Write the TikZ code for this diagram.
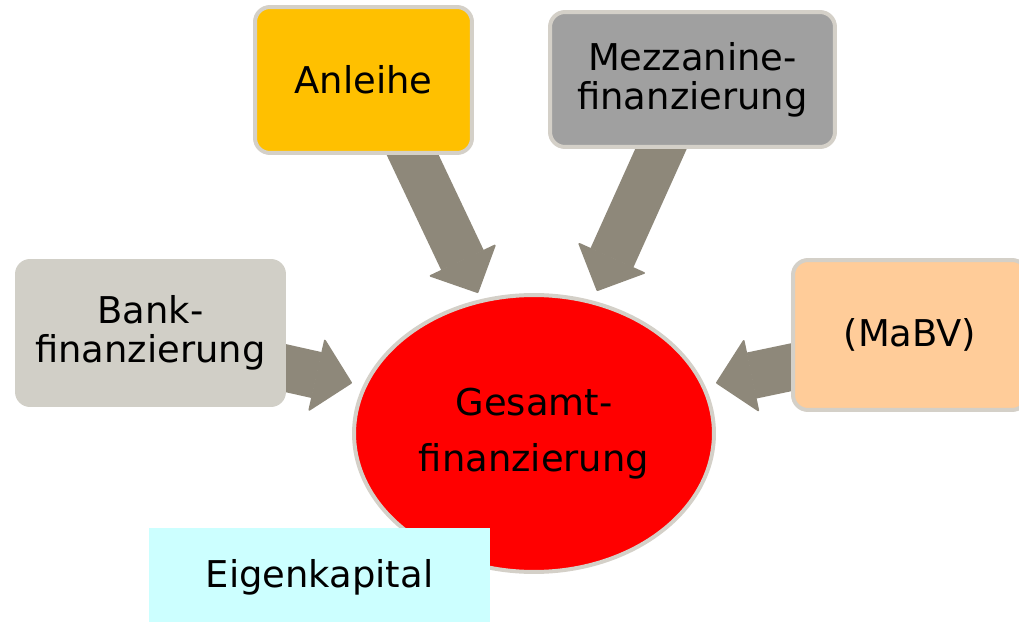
\documentclass[tikz,border=0pt]{standalone}
\usepackage{fontspec}
\setmainfont{DejaVu Sans}
\usetikzlibrary{arrows.meta,calc,shapes.geometric}
\definecolor{canleihe}{RGB}{255,192,0}
\definecolor{cmezz}{RGB}{160,160,160}
\definecolor{cbank}{RGB}{209,207,199}
\definecolor{cmabv}{RGB}{255,204,153}
\definecolor{ceigen}{RGB}{204,255,255}
\definecolor{crim}{RGB}{212,208,200}
\definecolor{cflow}{RGB}{142,136,122}
\pgfdeclarelayer{back}
\pgfsetlayers{back,main}

\begin{document}
\begin{tikzpicture}[x=0.02cm,y=-0.02cm,
  box/.style={rounded corners=0.3cm,line width=0.08cm,draw=crim,align=center,inner sep=0pt,
    font=\fontsize{21}{22}\selectfont},
  flow/.style={draw=cflow,fill=cflow,line width=0.94cm,
    -{Triangle[width=1.50cm,length=0.74cm,line width=1pt,round]}}]

\useasboundingbox (0,0) rectangle (1019,622);

% sources
\node[box,fill=canleihe,minimum width=4.34cm,minimum height=2.92cm] (anl) at (363.5,80) {Anleihe};
\node[box,fill=cmezz,minimum width=5.70cm,minimum height=2.70cm] (mez) at (692.5,79.5) {Mezzanine-\\finanzierung};
\node[box,draw=none,fill=cbank,minimum width=5.42cm,minimum height=2.96cm] (bank) at (150.5,333) {Bank-\\finanzierung};
\node[box,fill=cmabv,minimum width=4.68cm,minimum height=3.0cm] (mabv) at (910,335) {(MaBV)};

% center
\node[ellipse,draw=crim,line width=0.08cm,fill=red,minimum width=7.2cm,minimum height=5.54cm,
  align=center,font=\fontsize{21}{32}\selectfont] (ges) at (534,433.5) {Gesamt-\\finanzierung};

% own capital
\node[fill=ceigen,minimum width=6.82cm,minimum height=1.96cm,inner sep=0pt,
  font=\fontsize{21}{22}\selectfont] (eigen) at (319.5,577) {Eigenkapital};

% arrows
\begin{pgfonlayer}{back}
\draw[flow] ($(anl.center)+(35,45)$) -- ($(ges.center)+(-56,-140.5)$);
\draw[flow] ($(mez.center)+(-18.5,40.5)$) -- ($(ges.center)+(63,-142.5)$);
\draw[flow] ($(bank.center)+(102.5,27.8)$) -- ($(ges.center)+(-182,-50.5)$);
\draw[flow] ($(mabv.center)+(-90,26.2)$) -- ($(ges.center)+(182,-50.5)$);
\end{pgfonlayer}

\end{tikzpicture}
\end{document}
